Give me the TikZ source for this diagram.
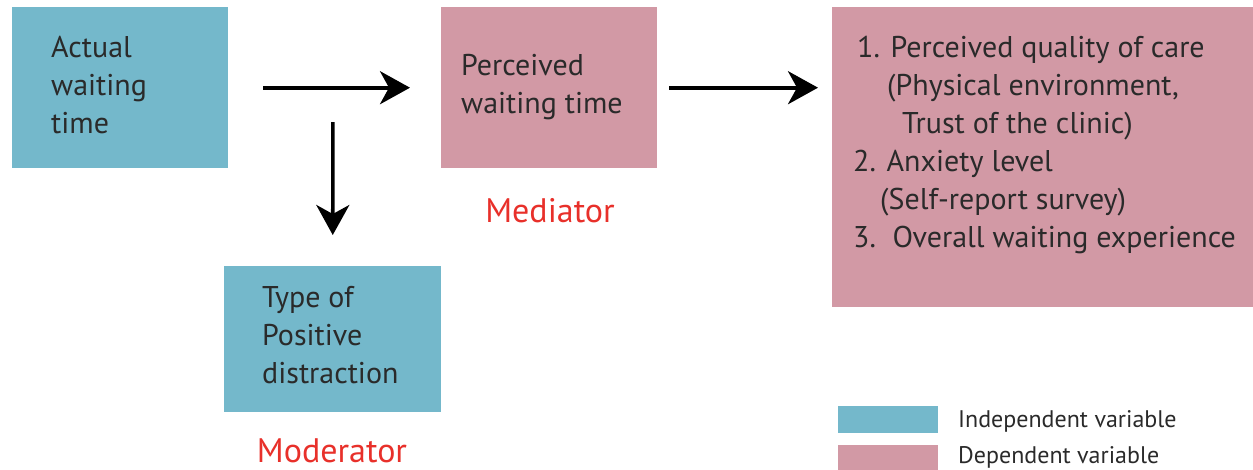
\documentclass[tikz,border=0pt]{standalone}
\usepackage{fontspec}
\setmainfont{PT Sans}
\usetikzlibrary{arrows.meta}
\definecolor{indep}{HTML}{74B8CB}
\definecolor{dep}{HTML}{D299A5}
\definecolor{labred}{HTML}{E8302A}
\definecolor{ink}{HTML}{2A2A2A}
\tikzset{
  varbox/.style={draw=none, minimum width=#1, inner sep=0pt, anchor=north west},
  % multi-line texts are placed by the baseline of their last line
  boxtext/.style={anchor=base west, inner sep=0pt, text=ink, font=\fontsize{30}{38}\selectfont, align=left},
  role/.style={anchor=base, inner sep=0pt, text=labred, font=\fontsize{34}{40}\selectfont},
  legtext/.style={anchor=base west, inner sep=0pt, text=ink, font=\fontsize{24}{28}\selectfont},
  arr/.style={line width=3.6pt, -{Stealth[length=30pt, width=33pt, inset=9pt]}}
}
\begin{document}
\begin{tikzpicture}[x=1pt, y=-1pt]
\useasboundingbox (0,0) rectangle (1253,469);

% variable boxes
\node[varbox=216pt, minimum height=161pt, fill=indep] (actual) at (12,7) {};
\node[varbox=216pt, minimum height=161pt, fill=dep] (perceived) at (441,7) {};
\node[varbox=421pt, minimum height=300pt, fill=dep] (outcome) at (832,7) {};
\node[varbox=217pt, minimum height=146pt, fill=indep] (distraction) at (224,266) {};

% box texts
\node[boxtext] (tA) at (51,133) {Actual\\waiting\\time};
\node[boxtext] (tB) at (461,113) {Perceived\\waiting time};
\node[boxtext] (tD) at (262,383) {Type of\\Positive\\distraction};
\node[boxtext] (tC) at (853,247)
  {\hspace{4pt}1. Perceived quality of care\\
   \hspace{34pt}(Physical environment,\\
   \hspace{49pt}Trust of the clinic)\\
   2. Anxiety level\\
   \hspace{27pt}(Self-report survey)\\
   3.\hspace{6pt} Overall waiting experience};

% role labels
\node[role] (med) at (550,222) {Mediator};
\node[role] (mod) at (332,462) {Moderator};

% connectors
\coordinate (split) at (333,88);
\draw[arr, shorten <=35pt, shorten >=31pt] (actual.east) -- (perceived.west);
\draw[arr, shorten <=12pt, shorten >=14pt] (perceived.east) -- (perceived.east -| outcome.west);
\draw[arr, shorten <=34pt, shorten >=31pt] (split) -- (distraction.north);

% legend
\node[varbox=100pt, minimum height=27pt, fill=indep] (legI) at (838,406) {};
\node[varbox=100pt, minimum height=26pt, fill=dep] (legD) at (838,445) {};
\node[legtext] (lI) at (958,427) {Independent variable};
\node[legtext] (lD) at (958,463) {Dependent variable};
\end{tikzpicture}
\end{document}
